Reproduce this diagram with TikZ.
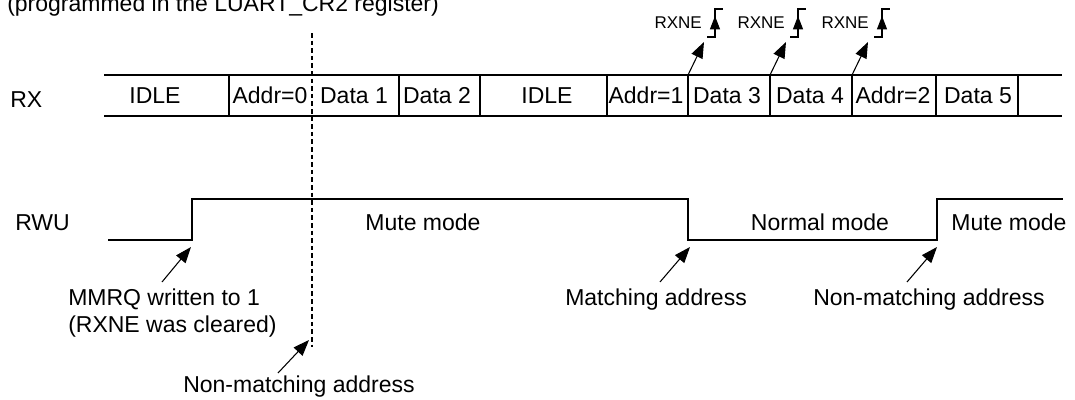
\documentclass[tikz,border=0pt]{standalone}
\usepackage{fontspec}
\setmainfont{Liberation Sans}
\usetikzlibrary{arrows.meta}

\begin{document}
\begin{tikzpicture}[
    x=0.75pt, y=-0.75pt,
    sig/.style={line width=0.9pt},
    lbl/.style={inner sep=0pt, font=\fontsize{17.25}{20.7}\selectfont},
    cell/.style={lbl, anchor=base},
    txt/.style={lbl, anchor=base west},
    flag/.style={inner sep=0pt, anchor=base east, font=\fontsize{12.75}{15}\selectfont},
    arrow/.style={-{Triangle[length=12pt, width=9pt]}, line width=0.8pt}
]
\useasboundingbox (0,0) rectangle (1075,400);

% Caption (cut at the top)
\node[txt] (note) at (7,11) {(programmed in the LUART\_CR2 register)};

% Signal names
\node[txt] (rxname) at (10,107) {RX};
\node[txt] (rwuname) at (15,230) {RWU};

% RX frames
\draw[sig] (104,75) -- (1062,75);
\draw[sig] (104,116) -- (1062,116);
\foreach \x in {229,399,480,607,688,770,852,936,1018}
    \draw[sig] (\x,75) -- (\x,116);
\foreach \x/\t [count=\i] in {155/IDLE, 270/Addr=0, 354/Data 1, 437/Data 2, 547/IDLE,
        646/Addr=1, 727/Data 3, 810/Data 4, 893/Addr=2, 978/Data 5}
    \node[cell] (frame\i) at (\x,103) {\t};

% RXNE flags
\foreach \p/\b in {715/688, 798/770, 882/852} {
    \node[flag] (rxne\p) at (\p-13,28) {RXNE};
    \draw[sig] (\p-8,37) -- (\p,37) -- (\p,9) -- (\p+8,9);
    \draw[-{Triangle[length=10pt, width=7.5pt]}, line width=0.8pt] (\p,31) -- (\p,16);
    \coordinate (edge\b) at (\b,75);
    \coordinate (flagtip\b) at (\b+16,42);
    \draw[arrow] (edge\b) -- (flagtip\b);
}

% Marker
\draw[sig, dash pattern=on 3.5pt off 2.2pt] (312,33) -- (312,347);

% RWU waveform
\draw[sig] (108,240) -- (192,240) -- (192,199) -- (688,199) -- (688,240)
    -- (937,240) -- (937,199) -- (1063,199);
\node[cell] (mute1) at (423,230) {Mute mode};
\node[cell] (normal) at (820,230) {Normal mode};
\node[cell] (mute2) at (1009,230) {Mute mode};

% Annotations
\node[txt] (mmrq) at (68,305) {MMRQ written to 1};
\node[txt] (cleared) at (68,332) {(RXNE was cleared)};
\node[txt] (nomatch1) at (183,392) {Non-matching address};
\node[txt] (match) at (565,305) {Matching address};
\node[txt] (nomatch2) at (813,305) {Non-matching address};

\coordinate (mmrqfrom) at (162,282);
\coordinate (mmrqto) at (191,247);
\coordinate (nm1from) at (278,373);
\coordinate (nm1to) at (309,340);
\coordinate (matchfrom) at (660,282);
\coordinate (matchto) at (690,247);
\coordinate (nm2from) at (907,282);
\coordinate (nm2to) at (937,247);

\draw[arrow] (mmrqfrom) -- (mmrqto);
\draw[arrow] (nm1from) -- (nm1to);
\draw[arrow] (matchfrom) -- (matchto);
\draw[arrow] (nm2from) -- (nm2to);

\end{tikzpicture}
\end{document}
